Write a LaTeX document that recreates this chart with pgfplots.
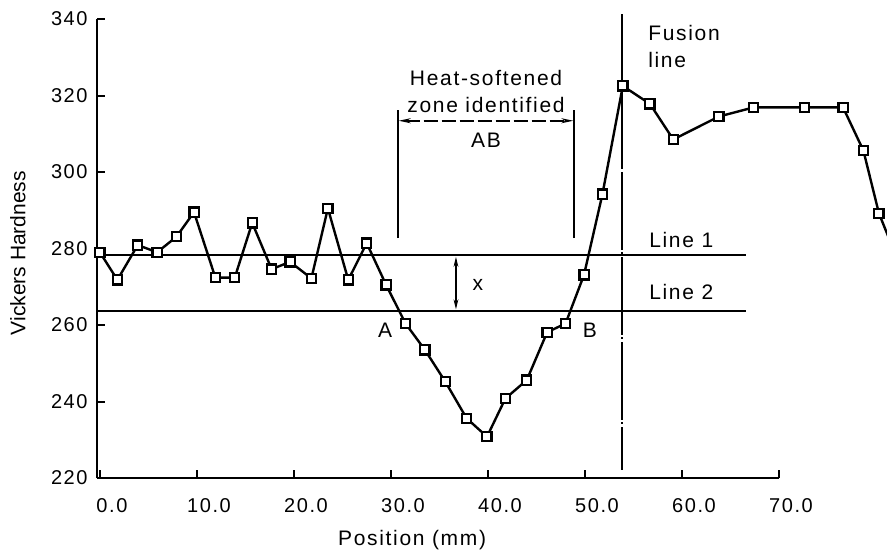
\documentclass[border=0pt]{standalone}
\usepackage{fontspec}
\setmainfont{Liberation Sans}[LetterSpace=8]
\usepackage{pgfplots}
\usepackage{pgfplotstable}
\pgfplotsset{compat=1.18}
\usetikzlibrary{arrows.meta}

% hardness traverse, position in mm
\pgfplotstableread{
x    y
0.0  279.0
1.8  271.8
3.9  280.9
5.9  279.0
7.9  283.1
9.7  289.5
11.9 272.4
13.9 272.4
15.7 286.7
17.7 274.6
19.6 276.5
21.8 272.2
23.5 290.5
25.6 271.8
27.5 281.4
29.5 270.5
31.5 260.4
33.5 253.5
35.6 245.2
37.8 235.6
39.9 230.8
41.8 240.8
44.0 245.6
46.1 258.1
48.0 260.4
49.9 273.1
51.8 294.2
53.9 322.5
56.7 317.8
59.1 308.5
63.8 314.5
67.4 316.9
72.6 316.9
76.6 316.9
78.7 305.6
80.3 289.2
81.6 281.0
}\hardness

\newcommand\lbl{\fontsize{10.5}{12}\selectfont}

\begin{document}
\begin{tikzpicture}
\useasboundingbox (-48.5pt,-37.5pt) rectangle (395pt,239pt);
\begin{axis}[
    at={(0,0)}, anchor=south west,
    scale only axis, width=341pt, height=229.5pt,
    xmin=-0.3, xmax=70, ymin=220, ymax=340,
    clip=false,
    axis lines=left,
    axis line style={-, line width=1.4pt},
    xtick={0,10,...,70},
    xticklabels={0.0,10.0,20.0,30.0,40.0,50.0,60.0,70.0},
    ytick={220,240,...,340},
    yticklabels={220,240,260,280,300,320,340},
    tick align=inside, major tick length=4pt,
    every tick/.style={black, line width=1pt},
    tick label style={font=\fontsize{10}{11}\selectfont},
    xticklabel style={anchor=center, yshift=-14pt, xshift=6pt},
    yticklabel style={anchor=east, inner sep=0pt, xshift=-4.5pt},
    xlabel={Position (mm)},
    ylabel={Vickers Hardness},
    xlabel style={font=\lbl, at={(axis description cs:0.462,-0.135)}, anchor=center},
    ylabel style={font=\lbl\addfontfeatures{LetterSpace=0},
        at={(axis description cs:-0.116,0.49)}, anchor=center},
]
% reference levels
\addplot[black, line width=1.1pt] coordinates {(-0.3,278.2) (66.6,278.2)};
\addplot[black, line width=1.1pt] coordinates {(-0.3,263.7) (66.6,263.7)};

% fusion line
\addplot[black, line width=1.2pt, dash pattern=on 39pt off 1.5pt on 1pt off 1pt, dash phase=17.5pt]
    coordinates {(53.8,222.1) (53.8,301)};
\addplot[black, line width=1.2pt] coordinates {(53.8,301) (53.8,341.3)};

% heat-softened zone markers
\addplot[black, line width=1pt] coordinates {(30.7,282.7) (30.7,316.2)};
\addplot[black, line width=1pt] coordinates {(48.9,282.7) (48.9,316.2)};
\addplot[black, line width=0.8pt, dash pattern=on 7pt off 2pt,
    {Stealth[length=6pt,width=2.5pt]}-{Stealth[length=6pt,width=2.5pt]}]
    coordinates {(30.8,313.4) (48.8,313.4)};
\addplot[black, line width=0.6pt,
    {Stealth[length=5pt,width=2.4pt]}-{Stealth[length=5pt,width=2.4pt]}]
    coordinates {(36.7,277.8) (36.7,264.1)};

% data
\addplot[black, line width=1.2pt] table[x=x, y=y] {\hardness};
\addplot[only marks, mark=square*, mark size=2.3pt,
    mark options={fill=white, draw=black, line width=1.1pt},
    restrict x to domain=-1:81] table[x=x, y=y] {\hardness};

\node[font=\lbl] at (axis cs:39.8,324.6) {Heat-softened};
\node[font=\lbl] at (axis cs:39.8,317.5) {zone identified};
\node[font=\lbl] at (axis cs:39.8,308.4) {AB};
\node[font=\lbl, anchor=west] at (axis cs:55.8,336.3) {Fusion};
\node[font=\lbl, anchor=west] at (axis cs:55.8,329.3) {line};
\node[font=\lbl, anchor=west] at (axis cs:55.9,282.2) {Line 1};
\node[font=\lbl, anchor=west] at (axis cs:55.9,268.7) {Line 2};
\node[font=\lbl, anchor=west] at (axis cs:37.7,270.5) {x};
\node[font=\lbl] at (axis cs:29.4,258.7) {A};
\node[font=\lbl] at (axis cs:50.5,258.7) {B};
\end{axis}
\end{tikzpicture}
\end{document}
